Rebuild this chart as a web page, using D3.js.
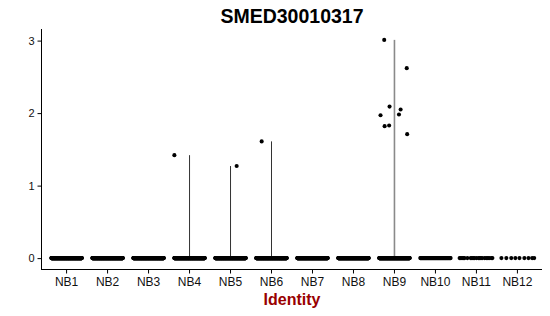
<!DOCTYPE html>
<html><head><meta charset="utf-8">
<script src="https://cdn.jsdelivr.net/npm/d3@7"></script>
<style>body{margin:0;background:#fff}</style>
</head><body>
<script>
const title = "SMED30010317";
const categories = ["NB1","NB2","NB3","NB4","NB5","NB6","NB7","NB8","NB9","NB10","NB11","NB12"];
const zeroCounts = [320,320,320,320,320,320,300,300,300,60,0,0];
// explicit jitter for the sparse zero-valued groups (band units)
const nb11Jitter = [-0.41,-0.38,-0.35,-0.32,-0.29,-0.22,-0.14,-0.11,-0.08,-0.05,0.0,0.05,0.08,0.11,0.14,0.2,0.24,0.28,0.31,0.36,0.39];
const nb12Jitter = [-0.39,-0.27,-0.15,-0.05,0.05,0.17,0.27,0.36,0.41];
const nzGroup  = ["NB4","NB5","NB6","NB9","NB9","NB9","NB9","NB9","NB9","NB9","NB9","NB9"];
const nzValue  = [1.42,1.27,1.61,3.01,2.62,2.09,2.05,1.97,1.98,1.82,1.83,1.71];
const nzJitter = [-0.37,0.15,-0.24,-0.25,0.30,-0.12,0.15,-0.34,0.11,-0.24,-0.13,0.31];
const yTicks = [0,1,2,3];

(function(){
const W=550,H=316;
const svg=d3.select("body").append("svg").attr("width",W).attr("height",H)
  .style("font-family","'Liberation Sans',Arial,sans-serif");
const pl=42,pr=542,pt=29,pb=269;
const x=d3.scaleBand().domain(categories).range([pl,pr]).paddingOuter(0.1).paddingInner(0);
const y=d3.scaleLinear().domain([-0.15,3.16]).range([pb,pt]);
const bw=x.bandwidth();
const cx=c=>x(c)+bw/2;
const R=2.05;

categories.forEach(c=>{
  const vals=nzValue.filter((v,i)=>nzGroup[i]===c);
  if(vals.length){
    const mx=d3.max(vals);
    svg.append("line").attr("x1",cx(c)).attr("x2",cx(c)).attr("y1",y(0)).attr("y2",y(mx))
      .attr("stroke",c==="NB9"?"#8a8a8a":"#333").attr("stroke-width",c==="NB9"?1.6:1);
  }
});

const jw=0.37*bw;
categories.forEach((c,k)=>{
  const n=zeroCounts[k];
  let pts=d3.range(n).map(i=>n>1? -jw+2*jw*i/(n-1):0);
  if(c==="NB11") pts=nb11Jitter.map(j=>j*bw);
  if(c==="NB12") pts=nb12Jitter.map(j=>j*bw);
  svg.append("g").selectAll("circle").data(pts).join("circle")
    .attr("cx",d=>cx(c)+d).attr("cy",y(0)).attr("r",R).attr("fill","#000");
});
svg.append("g").selectAll("circle").data(nzValue).join("circle")
  .attr("cx",(d,i)=>cx(nzGroup[i])+nzJitter[i]*bw).attr("cy",d=>y(d)).attr("r",R).attr("fill","#000");

const ya=svg.append("g").attr("transform",`translate(${pl-0.5},0)`)
  .call(d3.axisLeft(y).tickValues(yTicks).tickSize(4).tickPadding(3).tickFormat(d3.format("d")));
ya.select(".domain").attr("d",`M0,${pt}V${pb+0.5}`).attr("stroke","#000");
ya.selectAll(".tick text").attr("font-size",11).attr("fill","#111").attr("font-family","'Liberation Sans',Arial,sans-serif");
const xa=svg.append("g").attr("transform",`translate(0,${pb+0.5})`)
  .call(d3.axisBottom(x).tickSize(4).tickPadding(4));
xa.select(".domain").attr("d",`M${pl-1},0H${pr}`).attr("stroke","#000");
xa.selectAll(".tick text").attr("font-size",12).attr("fill","#111").attr("font-family","'Liberation Sans',Arial,sans-serif");

svg.append("text").attr("x",(pl+pr)/2).attr("y",23).attr("text-anchor","middle")
  .attr("font-size",19.5).attr("font-weight","bold").attr("fill","#000").text(title);
svg.append("text").attr("x",(pl+pr)/2).attr("y",305).attr("text-anchor","middle")
  .attr("font-size",16).attr("font-weight","bold").attr("fill","#990000").text("Identity");
})();
</script>
</body></html>
